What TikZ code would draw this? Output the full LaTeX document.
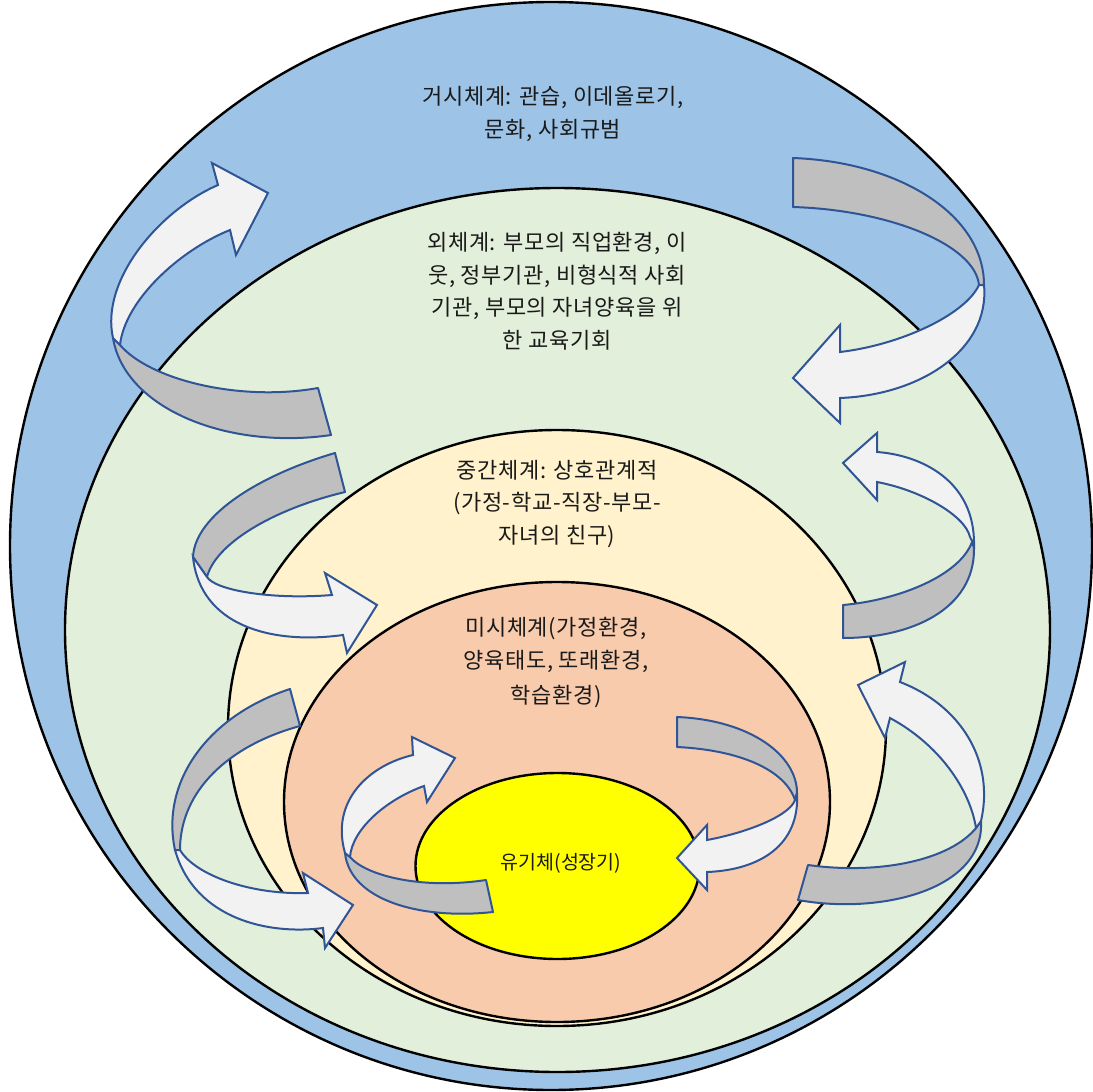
\documentclass[tikz,border=0pt]{standalone}
\usepackage{fontspec}
\newfontfamily\kr[LetterSpace=3]{Noto Sans CJK KR}
\newfontfamily\krtight{Noto Sans CJK KR}
\definecolor{outerblue}{HTML}{9DC3E6}
\definecolor{exogreen}{HTML}{E2EFDA}
\definecolor{mesocream}{HTML}{FFF2CC}
\definecolor{micropeach}{HTML}{F8CBAD}
\definecolor{coreyellow}{HTML}{FFFF00}
\definecolor{arrowblue}{HTML}{2F5597}
\definecolor{backgray}{HTML}{BFBFBF}
\definecolor{frontwhite}{HTML}{F2F2F2}
\definecolor{txt}{HTML}{1A1A1A}
\tikzset{
  ring/.style={draw=black, line width=2.4pt},
  backband/.style={draw=arrowblue, fill=backgray, line width=2pt, line join=round},
  frontband/.style={draw=arrowblue, fill=frontwhite, line width=2pt, line join=miter},
  lbl/.style={align=center, text=txt, inner sep=0pt, font=\kr\fontsize{22}{32.5}\selectfont}
}
\begin{document}
\begin{tikzpicture}[x=1pt,y=-1pt]
\useasboundingbox (0,0) rectangle (1093,1092);
\fill[white] (0,0) rectangle (1093,1092);
% ellipses
\draw[ring, fill=outerblue] (551,546) ellipse [x radius=541pt, y radius=544pt];
\draw[ring, fill=exogreen] (557.5,630) ellipse [x radius=492.5pt, y radius=442pt];
\draw[ring, fill=mesocream] (557,728) ellipse [x radius=329pt, y radius=298pt];
\draw[ring, fill=micropeach] (557,802) ellipse [x radius=273pt, y radius=220pt];
\draw[ring, fill=coreyellow] (557.5,866) ellipse [x radius=142pt, y radius=93pt];
% labels
\node[lbl] (macro) at (553,114) {거시체계: 관습, 이데올로기,\\문화, 사회규범};
\node[lbl] (exo) at (557,291) {외체계: 부모의 직업환경, 이\\웃, 정부기관, 비형식적 사회\\기관, 부모의 자녀양육을 위\\한 교육기회};
\node[lbl] (meso) at (557,504) {중간체계: 상호관계적\\(가정-학교-직장-부모-\\자녀의 친구)};
\node[lbl] (micro) at (556,663) {미시체계(가정환경,\\양육태도, 또래환경,\\[3pt]학습환경)};
\node[lbl, font=\krtight\fontsize{19.5}{22}\selectfont] (organism) at (561,863) {유기체(성장기)};
% arrow 1 (top-left)
\draw[backband] (318,388) .. controls (240,402) and (150,380) .. (120,345) -- (113,338) .. controls (125,410) and (230,450) .. (331,435) -- cycle;
\draw[frontband] (113,338) .. controls (100,280) and (160,210) .. (218,185) -- (212,163) -- (268,193) -- (236,255) -- (230,230) .. controls (180,250) and (125,300) .. (120,345) -- cycle;
% arrow 2 (top-right)
\draw[backband] (793,158) .. controls (900,162) and (984,215) .. (984,285) -- (979,285) .. controls (975,245) and (890,210) .. (793,207) -- cycle;
\draw[frontband] (984,285) .. controls (990,350) and (920,395) .. (840,398) -- (840,423) -- (793,378) -- (840,325) -- (840,352) .. controls (900,345) and (965,315) .. (979,285) -- cycle;
% arrow 3 (left middle)
\draw[backband] (335,453) .. controls (260,475) and (195,515) .. (193,557) -- (207,577) .. controls (215,545) and (270,510) .. (345,492) -- cycle;
\draw[frontband] (193,557) .. controls (200,625) and (270,645) .. (343,635) -- (347,653) -- (377,605) -- (325,573) -- (332,595) .. controls (270,600) and (215,590) .. (207,577) -- cycle;
% arrow 4 (right middle)
\draw[backband] (843,605) .. controls (900,600) and (960,575) .. (972,542) -- (974,548) .. controls (975,610) and (910,638) .. (843,638) -- cycle;
\draw[frontband] (974,545) .. controls (975,480) and (920,455) .. (877,452) -- (877,433) -- (843,463) -- (877,500) -- (877,482) .. controls (920,490) and (965,515) .. (970,537) -- cycle;
% arrow 5 (left bottom)
\draw[backband] (290,689) .. controls (210,715) and (160,780) .. (175,850) -- (180,850) .. controls (180,790) and (230,745) .. (300,726) -- cycle;
\draw[frontband] (175,850) .. controls (195,920) and (270,935) .. (323,928) -- (325,948) -- (353,905) -- (303,873) -- (308,893) .. controls (250,895) and (195,875) .. (180,850) -- cycle;
% arrow 6 (right bottom)
\draw[backband] (808,865) .. controls (880,875) and (950,860) .. (976,828) -- (981,821) .. controls (985,890) and (880,915) .. (798,900) -- cycle;
\draw[frontband] (981,821) .. controls (995,760) and (960,705) .. (900,682) -- (905,662) -- (858,685) -- (885,738) -- (890,718) .. controls (940,745) and (970,790) .. (976,828) -- cycle;
% arrow 7 (inner left)
\draw[backband] (486,880) .. controls (420,890) and (365,875) .. (350,857) -- (345,853) .. controls (350,900) and (420,920) .. (493,912) -- cycle;
\draw[frontband] (345,853) .. controls (330,800) and (370,765) .. (413,755) -- (412,737) -- (455,758) -- (427,802) -- (424,786) .. controls (385,800) and (352,830) .. (350,857) -- cycle;
% arrow 8 (inner right)
\draw[backband] (677,717) .. controls (750,720) and (797,755) .. (797,793) -- (795,800) .. controls (785,770) and (740,750) .. (677,747) -- cycle;
\draw[frontband] (797,793) .. controls (800,845) and (760,870) .. (707,872) -- (707,890) -- (677,858) -- (707,825) -- (707,840) .. controls (750,832) and (790,815) .. (795,800) -- cycle;
\end{tikzpicture}
\end{document}
